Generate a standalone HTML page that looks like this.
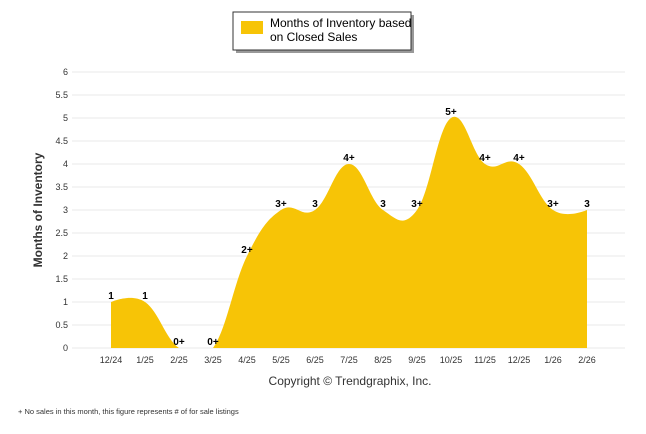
<!DOCTYPE html>
<html><head><meta charset="utf-8"><style>
body{margin:0;background:#fff;font-family:"Liberation Sans",Arial,sans-serif}
#wrap{position:relative;width:646px;height:434px;overflow:hidden}
</style></head><body>
<div id="wrap">
<svg id="chart" width="646" height="434">
<defs><clipPath id="plotclip"><rect x="72" y="60" width="553" height="288"/></clipPath></defs>
</svg>
</div>
<script>
const categories=["12/24","1/25","2/25","3/25","4/25","5/25","6/25","7/25","8/25","9/25","10/25","11/25","12/25","1/26","2/26"];
const values=[1,1,0,0,2,3,3,4,3,3,5,4,4,3,3];
const valueLabels=["1","1","0+","0+","2+","3+","3","4+","3","3+","5+","4+","4+","3+","3"];
const yTicks=[0,0.5,1,1.5,2,2.5,3,3.5,4,4.5,5,5.5,6];

(function(){
const NS="http://www.w3.org/2000/svg";
const svg=document.getElementById('chart');
const plotLeft=72,plotRight=625,plotTop=72,plotBottom=348,yMax=6;
const x0=111,step=34;
function xs(i){return x0+i*step;}
function ys(v){return plotBottom-(v/yMax)*(plotBottom-plotTop);}
function mk(tag,attrs,parent){const e=document.createElementNS(NS,tag);for(const k in attrs)e.setAttribute(k,attrs[k]);(parent||svg).appendChild(e);return e;}

yTicks.forEach(t=>{
  const g=mk('line',{x1:plotLeft,x2:plotRight,y1:ys(t),y2:ys(t),stroke:'#e8e8e8','stroke-width':1});
  
  
  const tx=mk('text',{x:68,y:ys(t)+3,'text-anchor':'end','font-size':'9','fill':'#333'});
  tx.textContent=String(t);
  
  
});
categories.forEach((c,i)=>{
  const tx=mk('text',{x:xs(i),y:363,'text-anchor':'middle','font-size':'9','fill':'#333'});
  tx.textContent=c;
  
  
});
const pts=values.map((v,i)=>({x:xs(i),y:ys(v)}));
function ctrl(i){
  const p=pts[i],pr=pts[i-1],nx=pts[i+1];
  const s=1.5,dn=2.5;
  let lcx=(s*p.x+pr.x)/dn,lcy=(s*p.y+pr.y)/dn,rcx=(s*p.x+nx.x)/dn,rcy=(s*p.y+nx.y)/dn;
  if(rcx!==lcx){const c=((rcy-lcy)*(rcx-p.x))/(rcx-lcx)+p.y-rcy;lcy+=c;rcy+=c;}
  return {lcx,lcy,rcx,rcy};
}
const cs=pts.map((p,i)=>(i>0&&i<pts.length-1)?ctrl(i):{lcx:p.x,lcy:p.y,rcx:p.x,rcy:p.y});
let d=`M${pts[0].x},${plotBottom} L${pts[0].x},${pts[0].y}`;
for(let i=1;i<pts.length;i++){
  d+=` C${cs[i-1].rcx},${cs[i-1].rcy} ${cs[i].lcx},${cs[i].lcy} ${pts[i].x},${pts[i].y}`;
}
d+=` L${pts[pts.length-1].x},${plotBottom} Z`;
const area=mk('path',{d:d,fill:'#F7C406','clip-path':'url(#plotclip)'});


values.forEach((v,i)=>{
  const tx=mk('text',{x:xs(i),y:ys(v)-3,'text-anchor':'middle','font-size':'10','font-weight':'bold','fill':'#000'});
  tx.textContent=valueLabels[i];
  
  
});
const yt=mk('text',{x:0,y:0,transform:'translate(42,210) rotate(-90)','text-anchor':'middle','font-size':'12','font-weight':'bold','fill':'#333'});
yt.textContent='Months of Inventory';


const cp=mk('text',{x:350,y:385,'text-anchor':'middle','font-size':'12','fill':'#333'});
cp.textContent='Copyright © Trendgraphix, Inc.';


const fn=mk('text',{x:18,y:414,'font-size':'7.5','fill':'#333'});
fn.textContent='+  No sales in this month, this figure represents # of for sale listings';


const lg=mk('g',{});


mk('rect',{x:236,y:15,width:178,height:38,fill:'#999'},lg);
mk('rect',{x:233,y:12,width:178,height:38,fill:'#fff',stroke:'#333','stroke-width':1},lg);
const sw=mk('rect',{x:241,y:21,width:22,height:13,fill:'#F7C406'},lg);


const l1=mk('text',{x:270,y:27,'font-size':'12','fill':'#000'},lg);l1.textContent='Months of Inventory based';
const l2=mk('text',{x:270,y:41,'font-size':'12','fill':'#000'},lg);l2.textContent='on Closed Sales';
})();
</script>
</body></html>
